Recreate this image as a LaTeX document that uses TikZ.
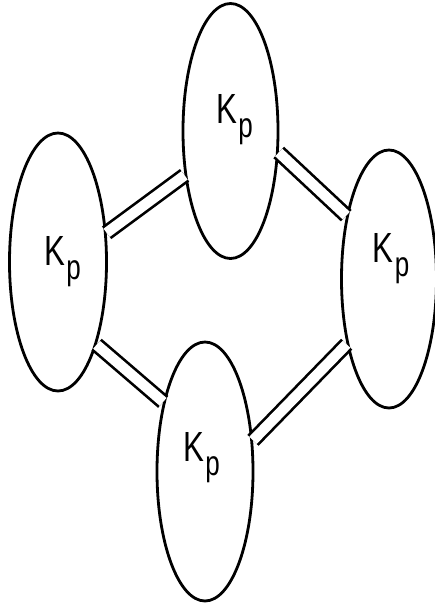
\documentclass[tikz,border=0pt]{standalone}
\usepackage{fontspec}
\setsansfont[FakeStretch=0.74]{Liberation Sans}
\usetikzlibrary{shapes.geometric}
\newcommand{\Kp}{K\kern1pt\lower12pt\hbox{\fontsize{30}{32}\selectfont p}}

\begin{document}
\begin{tikzpicture}[
      x=0.03cm,y=-0.03cm,
      cell/.style={ellipse,draw,line width=0.084cm,inner sep=0pt},
      kp/.style={font=\fontsize{36}{40}\sffamily,inner sep=0pt},
      bond/.style={double,double distance=0.31cm,line width=0.08cm}
    ]
    \useasboundingbox (0,0) rectangle (434,608);
    % the four ellipses
    \node[cell,minimum width=2.85cm,minimum height=7.65cm] (e1) at (230.5,131) {};
    \node[cell,minimum width=2.91cm,minimum height=7.74cm] (e2) at (58,262) {};
    \node[cell,minimum width=2.85cm,minimum height=7.74cm] (e3) at (389,279) {};
    \node[cell,minimum width=2.88cm,minimum height=7.77cm] (e4) at (205,471.5) {};
    \node[kp] (l1) at (234.5,119.5) {\Kp};
    \node[kp] (l2) at (62.5,261.5) {\Kp};
    \node[kp] (l3) at (391,259) {\Kp};
    \node[kp] (l4) at (201.5,457.5) {\Kp};
    % double bonds
    \draw[bond] (e2.31) -- (e1.-136);
    \draw[bond] (e1.-24) -- (e3.124);
    \draw[bond] (e2.-65) -- (e4.121);
    \draw[bond] (e4.33) -- (e3.-123);
  \end{tikzpicture}
\end{document}
